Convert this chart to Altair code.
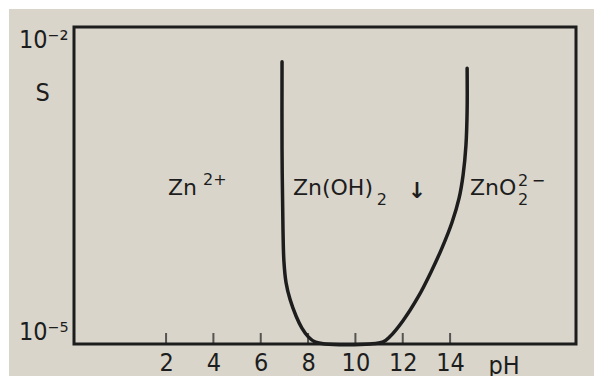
import altair as alt
import pandas as pd

# Solubility S of zinc hydroxide against pH (S as log10 exponent)
curve_ph = [6.90, 6.90, 6.94, 6.98, 7.07, 7.24, 7.50, 7.74, 8.00, 8.29, 8.72,
            10.62, 11.17, 11.46, 12.01, 12.65, 13.19, 13.66, 14.08, 14.38,
            14.55, 14.67, 14.72, 14.72]
curve_log_s = [-2.33, -3.16, -3.92, -4.22, -4.42, -4.58, -4.74, -4.85, -4.93,
               -4.98, -5.00, -5.00, -4.98, -4.93, -4.78, -4.555, -4.32, -4.09,
               -3.85, -3.62, -3.40, -3.12, -2.79, -2.39]

ph_ticks = [2, 4, 6, 8, 10, 12, 14]
s_ticks = [1e-5, 1e-2]

# Region labels: main text, superscripts, subscripts (anchored in pH / log S)
main_text = ["Zn", "Zn(OH)", "ZnO"]
main_ph = [2.08, 7.36, 14.84]
main_log_s = [-3.59, -3.59, -3.59]

sup_text = ["2+", "2", "\u2212"]
sup_ph = [3.56, 16.87, 17.45]
sup_log_s = [-3.495, -3.505, -3.505]

sub_text = ["2", "2"]
sub_ph = [10.9, 16.87]
sub_log_s = [-3.685, -3.685]

arrow_ph = [12.6]
arrow_log_s = [-3.62]

INK = "#1d1d1d"
PAPER = "#d9d5cb"
AXIS_FONT = "Liberation Sans Narrow, DejaVu Sans Condensed, Liberation Sans, sans-serif"
LABEL_FONT = "DejaVu Sans, sans-serif"

W, H = 502, 317
X_DOMAIN = [-1.89, 19.32]

curve = pd.DataFrame({
    "pH": curve_ph,
    "S": [10 ** v for v in curve_log_s],
    "i": list(range(len(curve_ph))),
})

x_scale = alt.Scale(domain=X_DOMAIN, nice=False, zero=False)
y_scale = alt.Scale(type="log", domain=[1e-5, 1e-2], nice=False)

line = alt.Chart(curve).mark_line(
    color=INK, strokeWidth=3.5, interpolate="catmull-rom", clip=False,
    strokeCap="round", strokeJoin="round"
).encode(
    x=alt.X("pH:Q", scale=x_scale, axis=alt.Axis(
        values=ph_ticks, tickSize=0, domain=False, grid=False,
        labelFont=AXIS_FONT, labelFontSize=25, labelColor=INK, labelPadding=6,
        title="pH", titleFont=AXIS_FONT, titleFontSize=25, titleFontWeight="normal",
        titleColor=INK, titleX=414, titleY=29, titleAlign="left",
        titleBaseline="alphabetic", titleAngle=0,
    )),
    y=alt.Y("S:Q", scale=y_scale, axis=alt.Axis(
        values=s_ticks, tickSize=0, domain=False, grid=False, labelFlush=True,
        labelExpr="datum.value < 0.001 ? '10\u207b\u2075' : '10\u207b\u00b2'",
        labelFont=AXIS_FONT, labelFontSize=25, labelColor=INK, labelPadding=6,
        title="S", titleFont=AXIS_FONT, titleFontSize=25, titleFontWeight="normal",
        titleColor=INK, titleX=-39, titleY=73, titleAlign="left",
        titleBaseline="alphabetic", titleAngle=0,
    )),
    order="i:O",
)

ticks = alt.Chart(pd.DataFrame({"pH": ph_ticks, "S": [1e-5] * len(ph_ticks)})).mark_tick(
    orient="vertical", color=INK, thickness=2, size=11, yOffset=-5.5, clip=False
).encode(x=alt.X("pH:Q", scale=x_scale), y=alt.Y("S:Q", scale=y_scale))


def text_layer(texts, phs, log_s, size, align="left", **kw):
    df = pd.DataFrame({"t": texts, "pH": phs, "S": [10 ** v for v in log_s]})
    return alt.Chart(df).mark_text(
        font=LABEL_FONT, fontSize=size, color=INK, align=align,
        baseline="alphabetic", clip=False, **kw
    ).encode(
        x=alt.X("pH:Q", scale=x_scale), y=alt.Y("S:Q", scale=y_scale), text="t:N"
    )


labels_main = text_layer(main_text, main_ph, main_log_s, 22)
labels_sup = text_layer(sup_text, sup_ph, sup_log_s, 16)
labels_sub = text_layer(sub_text, sub_ph, sub_log_s, 16)
arrow = text_layer(["\u2193"], arrow_ph, arrow_log_s, 22, align="center", fontWeight="bold")

# white edges around the paper
edge = pd.DataFrame({"k": [0]})
strip_top = alt.Chart(edge).mark_rect(color="white", clip=False).encode(
    x=alt.value(-74), x2=alt.value(W + 18), y=alt.value(-27), y2=alt.value(-18))
strip_left = alt.Chart(edge).mark_rect(color="white", clip=False).encode(
    x=alt.value(-74), x2=alt.value(-65), y=alt.value(-27), y2=alt.value(H + 39))
strip_bottom = alt.Chart(edge).mark_rect(color="white", clip=False).encode(
    x=alt.value(-74), x2=alt.value(W + 18), y=alt.value(H + 32), y2=alt.value(H + 39))

chart = alt.layer(
    strip_top, strip_left, strip_bottom, ticks, line,
    labels_main, labels_sup, labels_sub, arrow,
).properties(
    width=W, height=H,
    autosize=alt.AutoSizeParams(type="none"),
    padding={"left": 74, "top": 27, "right": 18, "bottom": 39},
    background=PAPER,
).configure_view(
    stroke=INK, strokeWidth=3, fill=PAPER
)

chart.save("out.html", embed_options={"renderer": "svg", "actions": False})
